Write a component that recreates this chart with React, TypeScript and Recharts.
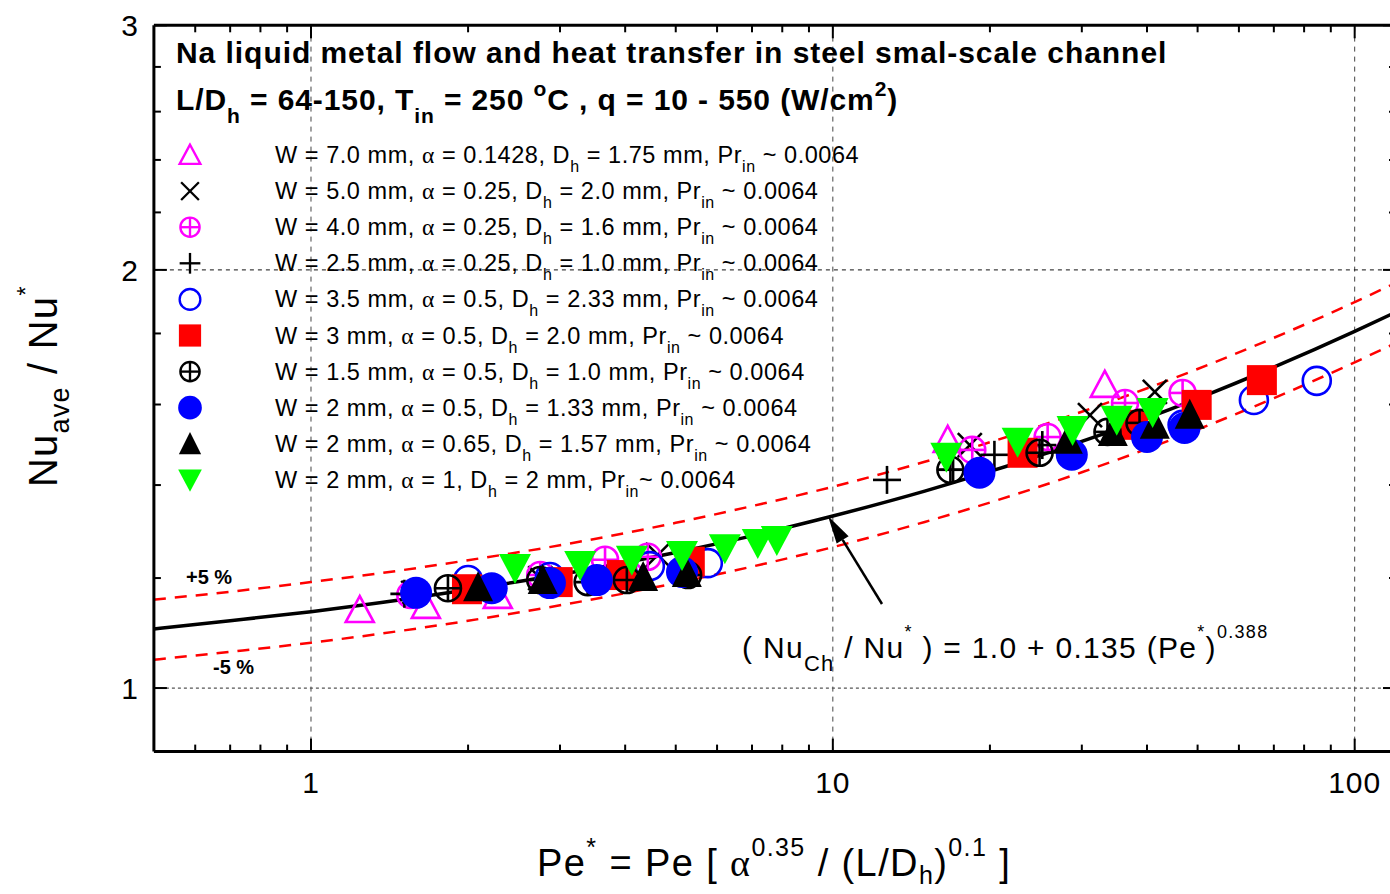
import React from 'react';
import { ComposedChart, Scatter, Line, XAxis, YAxis, ReferenceLine } from 'recharts';

// ---------- correlation curve (Nu_Ch/Nu* = 1 + 0.135 Pe*^0.388), values read at sample Pe* ----------
const curvePe = [0.5, 0.7, 1, 1.5, 2, 3, 5, 7, 10, 15, 20, 30, 50, 70, 100, 120];
const curveMid = [1.103, 1.118, 1.135, 1.158, 1.177, 1.207, 1.252, 1.287, 1.330, 1.386, 1.432, 1.505, 1.616, 1.702, 1.806, 1.865];
const curveUp = [1.158, 1.173, 1.192, 1.216, 1.236, 1.267, 1.315, 1.352, 1.396, 1.455, 1.503, 1.581, 1.697, 1.787, 1.896, 1.958];
const curveLo = [1.048, 1.062, 1.078, 1.100, 1.118, 1.147, 1.190, 1.223, 1.263, 1.317, 1.360, 1.430, 1.535, 1.617, 1.716, 1.772];

// ---------- experimental series ----------
const s1X = [1.24, 1.66, 2.28, 16.6, 33.2];
const s1Y = [1.138, 1.146, 1.165, 1.509, 1.653];
const s2X = [1.57, 2.75, 4.62, 18.3, 31.1, 41.4];
const s2Y = [1.171, 1.200, 1.247, 1.496, 1.572, 1.634];
const s3X = [1.55, 2.75, 3.66, 4.42, 18.5, 25.8, 36.3, 46.8];
const s3Y = [1.167, 1.206, 1.237, 1.243, 1.484, 1.516, 1.604, 1.631];
const s4X = [1.51, 12.7, 17.0, 20.4, 25.2];
const s4Y = [1.169, 1.412, 1.436, 1.472, 1.496];
const s5X = [2.0, 2.87, 4.46, 5.76, 46.8, 64.1, 84.6];
const s5Y = [1.196, 1.202, 1.224, 1.230, 1.547, 1.612, 1.664];
const s6X = [1.99, 2.97, 3.94, 5.32, 23.1, 37.6, 49.8, 66.4];
const s6Y = [1.178, 1.192, 1.206, 1.233, 1.477, 1.547, 1.599, 1.666];
const s7X = [1.83, 2.75, 3.39, 4.03, 5.28, 16.8, 24.9, 33.6, 38.7];
const s7Y = [1.180, 1.196, 1.192, 1.196, 1.206, 1.436, 1.477, 1.529, 1.552];
const s8X = [1.59, 2.22, 2.87, 3.53, 5.14, 19.1, 28.7, 40.0, 47.2];
const s8Y = [1.171, 1.180, 1.190, 1.196, 1.212, 1.429, 1.472, 1.516, 1.539];
const s9X = [2.09, 2.78, 4.33, 5.25, 28.2, 34.4, 41.4, 48.3];
const s9Y = [1.182, 1.196, 1.202, 1.210, 1.509, 1.529, 1.547, 1.573];
const s10X = [2.46, 3.28, 4.12, 5.14, 6.21, 7.18, 7.81, 16.5, 22.6, 28.8, 35.0, 41.0];
const s10Y = [1.220, 1.226, 1.237, 1.247, 1.261, 1.272, 1.278, 1.467, 1.504, 1.534, 1.560, 1.580];

const legendLabels = [
  'W = 7.0 mm, α = 0.1428, D_{h} = 1.75 mm, Pr_{in} ~ 0.0064',
  'W = 5.0 mm, α = 0.25, D_{h} = 2.0 mm, Pr_{in} ~ 0.0064',
  'W = 4.0 mm, α = 0.25, D_{h} = 1.6 mm, Pr_{in} ~ 0.0064',
  'W = 2.5 mm, α = 0.25, D_{h} = 1.0 mm, Pr_{in} ~ 0.0064',
  'W = 3.5 mm, α = 0.5, D_{h} = 2.33 mm, Pr_{in} ~ 0.0064',
  'W = 3 mm, α = 0.5, D_{h} = 2.0 mm, Pr_{in} ~ 0.0064',
  'W = 1.5 mm, α = 0.5, D_{h} = 1.0 mm, Pr_{in} ~ 0.0064',
  'W = 2 mm, α = 0.5, D_{h} = 1.33 mm, Pr_{in} ~ 0.0064',
  'W = 2 mm, α = 0.65, D_{h} = 1.57 mm, Pr_{in} ~ 0.0064',
  'W = 2 mm, α = 1, D_{h} = 2 mm, Pr_{in}~ 0.0064',
];
const markerKinds = ['triOpen', 'x', 'cplusM', 'plus', 'circOpen', 'square', 'cplusK', 'circFill', 'triFill', 'triDown'];

const xTicks = [0.6, 0.7, 0.8, 0.9, 1, 2, 3, 4, 5, 6, 7, 8, 9, 10, 20, 30, 40, 50, 60, 70, 80, 90, 100];
const xMajor = [1, 10, 100];
const yTicks = [1, 1.2, 1.4, 1.6, 1.8, 2, 2.2, 2.4, 2.6, 2.8, 3];
const yMajor = [1, 2, 3];

const titleLine1 = 'Na liquid metal flow and heat transfer in steel smal-scale channel';
const titleLine2 = 'L/D_{h} = 64-150, T_{in} = 250 ^{o}C , q = 10 - 550 (W/cm^{2})';
const formulaText = '( Nu_{Ch} / Nu^{*} ) = 1.0 + 0.135 (Pe^{*})^{0.388}';
const xTitle = 'Pe^{*} = Pe [ α^{0.35} / (L/D_{h})^{0.1} ]';
const yTitle = 'Nu_{ave} / Nu^{*}';

const SANS = '"Liberation Sans", Arial, Helvetica, sans-serif';
const SERIF = '"Liberation Serif", "Times New Roman", serif';

const zip = (xs: number[], ys: number[]) => xs.map((x, i) => ({ x, y: ys[i] }));
const series = [zip(s1X, s1Y), zip(s2X, s2Y), zip(s3X, s3Y), zip(s4X, s4Y), zip(s5X, s5Y),
  zip(s6X, s6Y), zip(s7X, s7Y), zip(s8X, s8Y), zip(s9X, s9Y), zip(s10X, s10Y)];
const midData = zip(curvePe, curveMid);
const upData = zip(curvePe, curveUp);
const loData = zip(curvePe, curveLo);

function drawMarker(kind: string, cx: number, cy: number, s = 1, key?: any) {
  const sw = 2.6 * (s < 1 ? 0.9 : 1);
  switch (kind) {
    case 'triOpen':
      return <polygon key={key} points={`${cx},${cy - 14 * s} ${cx - 14 * s},${cy + 12 * s} ${cx + 14 * s},${cy + 12 * s}`} fill="none" stroke="#ff00ff" strokeWidth={sw} />;
    case 'x':
      return <g key={key} stroke="#000" strokeWidth={sw}><line x1={cx - 12 * s} y1={cy - 12 * s} x2={cx + 12 * s} y2={cy + 12 * s} /><line x1={cx - 12 * s} y1={cy + 12 * s} x2={cx + 12 * s} y2={cy - 12 * s} /></g>;
    case 'cplusM':
    case 'cplusK': {
      const c = kind === 'cplusM' ? '#ff00ff' : '#000';
      const r = 13 * s;
      return <g key={key} stroke={c} strokeWidth={sw} fill="none"><circle cx={cx} cy={cy} r={r} /><line x1={cx - r} y1={cy} x2={cx + r} y2={cy} /><line x1={cx} y1={cy - r} x2={cx} y2={cy + r} /></g>;
    }
    case 'plus':
      return <g key={key} stroke="#000" strokeWidth={sw}><line x1={cx - 14 * s} y1={cy} x2={cx + 14 * s} y2={cy} /><line x1={cx} y1={cy - 14 * s} x2={cx} y2={cy + 14 * s} /></g>;
    case 'circOpen':
      return <circle key={key} cx={cx} cy={cy} r={14 * s} fill="none" stroke="#0000ff" strokeWidth={sw} />;
    case 'square':
      return <rect key={key} x={cx - 15 * s} y={cy - 15 * s} width={30 * s} height={30 * s} fill="#ff0000" />;
    case 'circFill':
      return <circle key={key} cx={cx} cy={cy} r={16 * s} fill="#0000ff" />;
    case 'triFill':
      return <polygon key={key} points={`${cx},${cy - 16 * s} ${cx - 15 * s},${cy + 14 * s} ${cx + 15 * s},${cy + 14 * s}`} fill="#000" />;
    case 'triDown':
      return <polygon key={key} points={`${cx - 16 * s},${cy - 14 * s} ${cx + 16 * s},${cy - 14 * s} ${cx},${cy + 16 * s}`} fill="#00ff00" />;
    default:
      return null;
  }
}

type RTProps = {
  x: number; y: number; text: string; size: number; bold?: boolean;
  subSize?: number; supSize?: number; subDy?: number; supDy?: number;
  anchor?: string; transform?: string; spacing?: number;
};
function RichText({ x, y, text, size, bold, subSize = size * 0.7, supSize = size * 0.7, subDy = size * 0.35, supDy = size * 0.5, anchor = 'start', transform, spacing = 0 }: RTProps) {
  const parts = text.split(/(_\{[^}]*\}|\^\{[^}]*\}|α)/).filter((p) => p !== '');
  let offset = 0;
  const spans = parts.map((p, i) => {
    let content = p;
    let fs = size;
    let target = 0;
    let family: string | undefined = undefined;
    if (p.startsWith('_{')) { content = p.slice(2, -1); fs = subSize; target = subDy; }
    else if (p.startsWith('^{')) { content = p.slice(2, -1); fs = supSize; target = -supDy; }
    else if (p === 'α') { family = SERIF; }
    const dy = target - offset;
    offset = target;
    return <tspan key={i} dy={dy} fontSize={fs} fontFamily={family}>{content}</tspan>;
  });
  return (
    <text x={x} y={y} transform={transform} textAnchor={anchor as any} fontFamily={SANS} fontSize={size}
      fontWeight={bold ? 'bold' : 'normal'} fill="#000" style={{ whiteSpace: 'pre', letterSpacing: spacing }}>
      {spans}
    </text>
  );
}

const BottomTick = (props: any) => {
  const { x, y, payload } = props;
  const v = payload.value;
  const major = xMajor.includes(v);
  return (
    <g>
      <line x1={x} y1={y} x2={x} y2={y - (major ? 13 : 7)} stroke="#000" strokeWidth={2} />
      {major && <text x={x} y={y + 41} textAnchor="middle" fontFamily={SANS} fontSize={30} fill="#000" style={{ letterSpacing: 1 }}>{v}</text>}
    </g>
  );
};
const TopTick = (props: any) => {
  const { x, y, payload } = props;
  const major = xMajor.includes(payload.value);
  return <line x1={x} y1={y} x2={x} y2={y + (major ? 13 : 7)} stroke="#000" strokeWidth={2} />;
};
const LeftTick = (props: any) => {
  const { x, y, payload } = props;
  const v = payload.value;
  const major = yMajor.includes(v);
  return (
    <g>
      <line x1={x} y1={y} x2={x + (major ? 13 : 7)} y2={y} stroke="#000" strokeWidth={2} />
      {major && <text x={x - 16} y={y} dy="0.36em" textAnchor="end" fontFamily={SANS} fontSize={30} fill="#000">{v}</text>}
    </g>
  );
};
const RightTick = (props: any) => {
  const { x, y, payload } = props;
  const major = yMajor.includes(payload.value);
  return <line x1={x} y1={y} x2={x - (major ? 13 : 7)} y2={y} stroke="#000" strokeWidth={2} />;
};

function Arrow({ x1, y1, x2, y2 }: { x1: number; y1: number; x2: number; y2: number }) {
  const dx = x2 - x1, dy = y2 - y1;
  const L = Math.hypot(dx, dy);
  const ux = dx / L, uy = dy / L;
  const hl = 28, hw = 7;
  const bx = x2 - ux * hl, by = y2 - uy * hl;
  const nx = -uy, ny = ux;
  return (
    <g>
      <line x1={x1} y1={y1} x2={bx} y2={by} stroke="#000" strokeWidth={2.5} />
      <polygon points={`${x2},${y2} ${bx + nx * hw},${by + ny * hw} ${bx - nx * hw},${by - ny * hw}`} fill="#000" />
    </g>
  );
}

export default function App() {
  const axisLine = { stroke: '#000', strokeWidth: 3 };
  return (
    <div style={{ position: 'absolute', left: 0, top: 0, width: 1390, height: 894, overflow: 'hidden', background: '#fff' }}>
      <ComposedChart width={1400} height={894} margin={{ top: 20.3, right: 0, bottom: 102.4, left: 93.9 }}>
        <XAxis dataKey="x" type="number" scale="log" domain={[0.5, 120]} allowDataOverflow ticks={xTicks}
          tickSize={0} tickMargin={0} tickLine={false} axisLine={axisLine} tick={<BottomTick />} height={40} interval={0} />
        <XAxis xAxisId="top" orientation="top" dataKey="x" type="number" scale="log" domain={[0.5, 120]} allowDataOverflow ticks={xTicks}
          tickSize={0} tickMargin={0} tickLine={false} axisLine={axisLine} tick={<TopTick />} height={5} interval={0} />
        <YAxis dataKey="y" type="number" scale="log" domain={[0.9, 3]} allowDataOverflow ticks={yTicks}
          tickSize={0} tickMargin={0} tickLine={false} axisLine={axisLine} tick={<LeftTick />} width={60} interval={0} />
        <YAxis yAxisId="right" orientation="right" dataKey="y" type="number" scale="log" domain={[0.9, 3]} allowDataOverflow ticks={yTicks}
          tickSize={0} tickMargin={0} tickLine={false} axisLine={axisLine} tick={<RightTick />} width={4} interval={0} />

        <ReferenceLine x={1} stroke="#444" strokeWidth={1} strokeDasharray="5 5" />
        <ReferenceLine x={10} stroke="#444" strokeWidth={1} strokeDasharray="5 5" />
        <ReferenceLine x={100} stroke="#444" strokeWidth={1} strokeDasharray="5 5" />
        <ReferenceLine y={1} stroke="#555" strokeWidth={1.2} strokeDasharray="3 3" />
        <ReferenceLine y={2} stroke="#111" strokeWidth={1} strokeDasharray="4 4" />

        <Line data={upData} dataKey="y" type="monotone" stroke="#ff0000" strokeWidth={2.5} strokeDasharray="12 9" dot={false} isAnimationActive={false} />
        <Line data={loData} dataKey="y" type="monotone" stroke="#ff0000" strokeWidth={2.5} strokeDasharray="12 9" dot={false} isAnimationActive={false} />
        <Line data={midData} dataKey="y" type="monotone" stroke="#000" strokeWidth={3.5} dot={false} isAnimationActive={false} />

        {series.map((d, i) => (
          <Scatter key={i} data={d} isAnimationActive={false}
            shape={(p: any) => drawMarker(markerKinds[i], p.cx, p.cy, 1) as any} />
        ))}
      </ComposedChart>

      <svg width={1390} height={894} style={{ position: 'absolute', left: 0, top: 0, pointerEvents: 'none' }}>
        <RichText x={176} y={63} text={titleLine1} size={30} bold spacing={0.95} />
        <RichText x={176} y={110} text={titleLine2} size={30} bold subSize={21} subDy={13} supSize={21} supDy={14} spacing={0.9} />
        {legendLabels.map((lab, i) => (
          <g key={i}>
            {drawMarker(markerKinds[i], 190, 155 + i * 36.1, 0.74)}
            <RichText x={275} y={163 + i * 36.1} text={lab} size={23.5} subSize={16} subDy={9} spacing={0.55} />
          </g>
        ))}
        <text x={186} y={584} fontFamily={SANS} fontSize={20} fontWeight="bold">+5 %</text>
        <text x={213} y={674} fontFamily={SANS} fontSize={20} fontWeight="bold">-5 %</text>
        <Arrow x1={882} y1={604} x2={828} y2={516} />
        <RichText x={742} y={658} text={formulaText} size={30} subSize={22} subDy={13} supSize={18} supDy={20} spacing={1.3} />
        <RichText x={537} y={876} text={xTitle} size={38} subSize={25} subDy={8} supSize={25} supDy={20} spacing={1.4} />
        <RichText x={57} y={487} transform="rotate(-90 57 487)" text={yTitle} size={40} subSize={27} subDy={12} supSize={24} supDy={23} spacing={1.2} />
      </svg>
    </div>
  );
}
